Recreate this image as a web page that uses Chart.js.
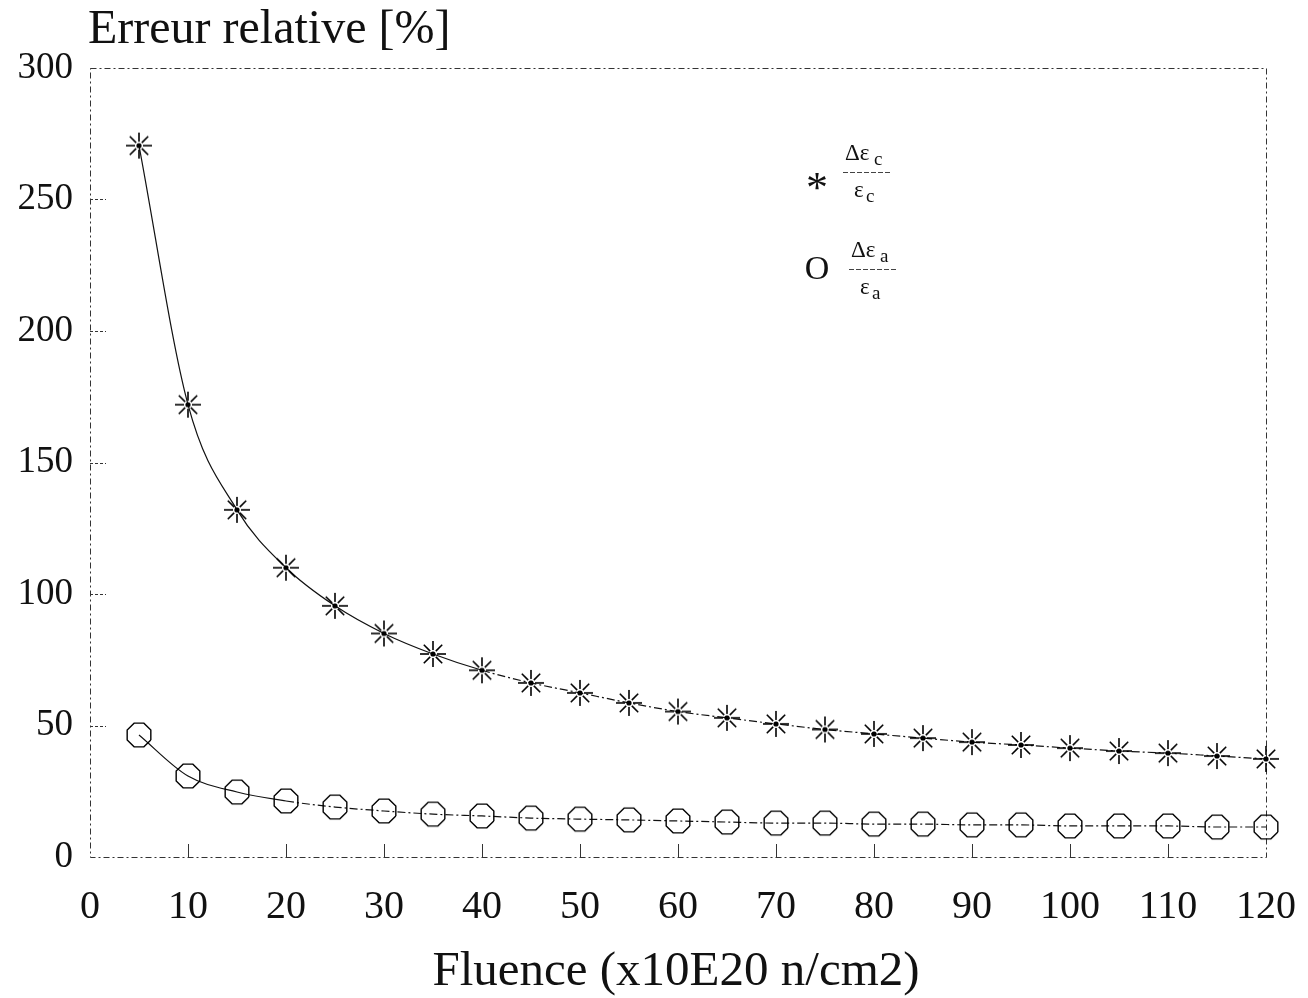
<!DOCTYPE html>
<html>
<head>
<meta charset="utf-8">
<script src="https://cdn.jsdelivr.net/npm/chart.js@4.4.0/dist/chart.umd.min.js"></script>
<style>
  html, body { margin: 0; padding: 0; background: #fff; }
  #wrap { width: 1308px; height: 998px; }
</style>
</head>
<body>
<div id="wrap"><canvas id="c" width="1308" height="998"></canvas></div>
<script>
// fluence (x10E20 n/cm2)
var fluence = [5, 10, 15, 20, 25, 30, 35, 40, 45, 50, 55, 60, 65, 70, 75, 80, 85, 90, 95, 100, 105, 110, 115, 120];
// relative error on eps_c [%]
var errC = [270.5, 172, 132, 110, 95.5, 85, 77.2, 71, 66.2, 62.4, 58.6, 55.3, 52.9, 50.6, 48.5, 46.8, 45.2, 43.7, 42.6, 41.4, 40.3, 39.5, 38.4, 37.3];
// relative error on eps_a [%]
var errA = [46.4, 30.8, 24.7, 21.3, 19, 17.5, 16.3, 15.6, 14.8, 14.4, 14.1, 13.7, 13.3, 12.9, 12.9, 12.5, 12.5, 12.2, 12.2, 11.8, 11.8, 11.8, 11.4, 11.4];

var yTitle = "Erreur relative [%]";
var xTitle = "Fluence (x10E20 n/cm2)";

function pts(xs, ys) {
  var out = [];
  for (var i = 0; i < xs.length; i++) out.push({x: xs[i], y: ys[i]});
  return out;
}

var ink = "#111";
var serif = "'Liberation Serif', 'DejaVu Serif', serif";

// 8 ray star with a dot in the middle
function starMarker() {
  var s = 30, c = document.createElement("canvas");
  c.width = s; c.height = s;
  var g = c.getContext("2d"), m = s / 2;
  g.strokeStyle = "#000";
  g.lineWidth = 1.6;
  for (var k = 0; k < 8; k++) {
    var an = k * Math.PI / 4;
    g.beginPath();
    g.moveTo(m + Math.cos(an) * 4, m + Math.sin(an) * 4);
    g.lineTo(m + Math.cos(an) * 13, m + Math.sin(an) * 13);
    g.stroke();
  }
  g.fillStyle = "#000";
  g.beginPath();
  g.arc(m, m, 2.6, 0, Math.PI * 2);
  g.fill();
  return c;
}

// octagon used for the open markers
function octMarker() {
  var s = 30, c = document.createElement("canvas");
  c.width = s; c.height = s;
  var g = c.getContext("2d"), m = s / 2, r = 12.8;
  g.strokeStyle = "#000";
  g.lineWidth = 1.4;
  g.beginPath();
  for (var k = 0; k <= 8; k++) {
    var an = Math.PI / 8 + k * Math.PI / 4;
    var px = m + Math.cos(an) * r, py = m + Math.sin(an) * r;
    if (k === 0) g.moveTo(px, py); else g.lineTo(px, py);
  }
  g.stroke();
  return c;
}

// frame, inner ticks, titles and the fraction legend
var decor = {
  id: "decor",
  beforeDatasetsDraw: function(chart) {
    var ctx = chart.ctx, a = chart.chartArea;
    var xs = chart.scales.x, ys = chart.scales.y;
    ctx.save();
    ctx.strokeStyle = "#333";
    ctx.lineWidth = 1;
    ctx.setLineDash([6, 3, 2, 3]);
    ctx.strokeRect(a.left + 0.5, a.top + 0.5, a.right - a.left, a.bottom - a.top);
    ctx.setLineDash([]);
    // ticks pointing inward
    xs.ticks.forEach(function(t) {
      if (t.value <= 0 || t.value >= 120) return;
      var px = Math.round(xs.getPixelForValue(t.value)) + 0.5;
      ctx.beginPath();
      ctx.moveTo(px, a.bottom);
      ctx.lineTo(px, a.bottom - 13);
      ctx.stroke();
    });
    ctx.setLineDash([3, 2]);
    ys.ticks.forEach(function(t) {
      if (t.value <= 0 || t.value >= 300) return;
      var py = Math.round(ys.getPixelForValue(t.value)) + 0.5;
      ctx.beginPath();
      ctx.moveTo(a.left, py);
      ctx.lineTo(a.left + 16, py);
      ctx.stroke();
    });
    ctx.restore();
  },
  afterDraw: function(chart) {
    var ctx = chart.ctx;
    ctx.save();
    ctx.fillStyle = ink;

    // axis titles
    ctx.textBaseline = "alphabetic";
    ctx.textAlign = "left";
    ctx.font = "48px " + serif;
    ctx.fillText(yTitle, 88, 43);
    ctx.textAlign = "center";
    ctx.font = "49px " + serif;
    ctx.fillText(xTitle, 676, 985);

    // legend: symbol + fraction
    function frac(sym, symSize, sx, sy, fx, y0, sub) {
      ctx.textAlign = "center";
      ctx.font = symSize + "px " + serif;
      ctx.fillText(sym, sx, sy);
      ctx.textAlign = "left";
      ctx.font = "23px " + serif;
      ctx.fillText("\u0394\u03b5", fx, y0);
      ctx.font = "19px " + serif;
      ctx.fillText(sub, fx + 29, y0 + 5);
      ctx.lineWidth = 1;
      ctx.strokeStyle = "#444";
      ctx.setLineDash([5, 2]);
      ctx.beginPath();
      ctx.moveTo(fx - 2, y0 + 12.5);
      ctx.lineTo(fx + 47, y0 + 12.5);
      ctx.stroke();
      ctx.setLineDash([]);
      ctx.font = "23px " + serif;
      ctx.fillText("\u03b5", fx + 9, y0 + 37);
      ctx.font = "19px " + serif;
      ctx.fillText(sub, fx + 21, y0 + 42);
    }
    frac("*", 44, 817, 202, 845, 160, "c");
    frac("O", 34, 817, 279, 851, 257, "a");
    ctx.restore();
  }
};

var chart = new Chart(document.getElementById("c"), {
  type: "line",
  data: {
    datasets: [
      {
        label: "\u0394\u03b5c/\u03b5c",
        data: pts(fluence, errC),
        borderColor: ink,
        borderWidth: 1.2,
        cubicInterpolationMode: "monotone",
        pointStyle: starMarker(),
        pointRadius: 13,
        segment: {
          borderDash: function(c) { return c.p0.parsed.x >= 40 ? [8, 3, 2, 3] : undefined; }
        }
      },
      {
        label: "\u0394\u03b5a/\u03b5a",
        data: pts(fluence, errA),
        borderColor: ink,
        borderWidth: 1.2,
        cubicInterpolationMode: "monotone",
        pointStyle: octMarker(),
        pointRadius: 13,
        segment: {
          borderDash: function(c) { return c.p0.parsed.x >= 20 ? [8, 3, 2, 3] : undefined; }
        }
      }
    ]
  },
  options: {
    responsive: false,
    animation: false,
    clip: false,
    layout: { padding: { top: 68, right: 42, left: 0, bottom: 0 } },
    plugins: {
      legend: { display: false },
      title: { display: false },
      tooltip: { enabled: false }
    },
    scales: {
      x: {
        type: "linear",
        min: 0,
        max: 120,
        grid: { display: false, drawTicks: false },
        border: { display: false },
        ticks: {
          stepSize: 10,
          padding: 26,
          color: ink,
          font: { family: serif, size: 40 },
          maxRotation: 0,
          autoSkip: false
        },
        afterFit: function(s) { s.height = 141; s.paddingLeft = 0; s.paddingRight = 0; }
      },
      y: {
        min: 0,
        max: 300,
        grid: { display: false, drawTicks: false },
        border: { display: false },
        ticks: {
          stepSize: 50,
          padding: 17,
          color: ink,
          font: { family: serif, size: 37 }
        },
        afterFit: function(s) { s.width = 90; s.paddingTop = 0; s.paddingBottom = 0; }
      }
    }
  },
  plugins: [decor]
});
</script>
</body>
</html>
